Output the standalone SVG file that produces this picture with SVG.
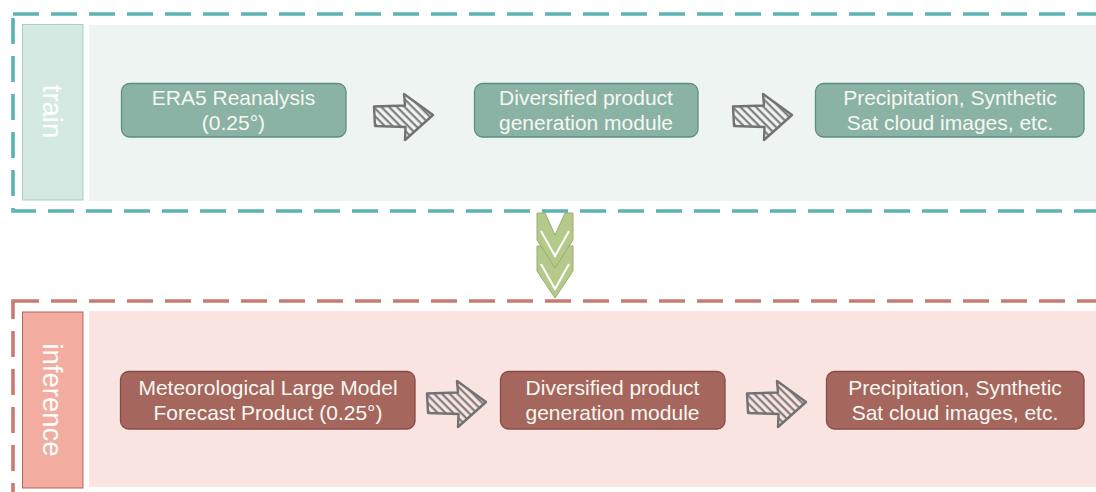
<svg xmlns="http://www.w3.org/2000/svg" width="1096" height="492" viewBox="0 0 1096 492">
<style>
.txt{font-family:"Liberation Sans",Arial,sans-serif;font-size:21px;fill:#f7f7f2;text-anchor:middle}
.lbl{font-family:"Liberation Sans",Arial,sans-serif;font-size:27.5px;fill:#ffffff;text-anchor:middle;dominant-baseline:central}
.tnode{fill:#8ab3a5;stroke:#5c8c84;stroke-width:1.3}
.inode{fill:#a5675d;stroke:#8a4a44;stroke-width:1.3}
.arr{fill:url(#hatch);stroke:#727272;stroke-width:2.4;stroke-linejoin:round}
.chev{fill:#b5c98a;stroke:#98ad70;stroke-width:1}
.chevline{fill:none;stroke:#ffffff;stroke-width:2}
</style>
<defs>
<pattern id="hatch" patternUnits="userSpaceOnUse" width="5.5" height="5.5" patternTransform="rotate(-45)">
<line x1="1.5" y1="0" x2="1.5" y2="5.5" stroke="#727272" stroke-width="2"/>
</pattern>
<path id="harrow" d="M0,12.5 L31,11.5 L30,0 L59,21 L31,46 L31.5,33 L1,32 Z"/>
</defs>

<g id="train">
<rect x="89" y="25" width="1020" height="176" fill="#eef4f2"/>
<rect x="22.5" y="24.5" width="60.5" height="175.5" fill="#d4e9e2" stroke="#a8cfc4" stroke-width="1"/>
<text class="lbl" transform="translate(52.5,111.5) rotate(90)">train</text>
<rect x="13" y="14" width="1110" height="197" fill="none" stroke="#5bb3b3" stroke-width="3.6" stroke-dasharray="26 12"/>
</g>

<g id="inference">
<rect x="89" y="311" width="1020" height="176" fill="#f9e4e2"/>
<rect x="22.5" y="312" width="60.5" height="176" fill="#f2ada0" stroke="#b5645a" stroke-width="1"/>
<text class="lbl" transform="translate(52.5,400) rotate(90)">inference</text>
<rect x="13" y="301" width="1110" height="210" fill="none" stroke="#c97b70" stroke-width="3.6" stroke-dasharray="26 12"/>
</g>

<g id="n-era5">
<rect class="tnode" x="121.5" y="83.5" width="224.5" height="53.5" rx="8"/>
<text class="txt" x="233.5" y="105">ERA5 Reanalysis</text>
<text class="txt" x="233.5" y="130">(0.25°)</text>
</g>
<g id="n-train-gen">
<rect class="tnode" x="474.5" y="83.5" width="223.5" height="53.5" rx="8"/>
<text class="txt" x="586" y="105">Diversified product</text>
<text class="txt" x="586" y="130">generation module</text>
</g>
<g id="n-train-out">
<rect class="tnode" x="815.5" y="83.5" width="268.5" height="53.5" rx="8"/>
<text class="txt" x="950" y="105">Precipitation, Synthetic</text>
<text class="txt" x="950" y="130">Sat cloud images, etc.</text>
</g>

<g id="n-mlm">
<rect class="inode" x="120.5" y="371.5" width="294.5" height="57.5" rx="8"/>
<text class="txt" x="268" y="395">Meteorological Large Model</text>
<text class="txt" x="268" y="420">Forecast Product (0.25°)</text>
</g>
<g id="n-inf-gen">
<rect class="inode" x="500.5" y="371.5" width="224.5" height="57.5" rx="8"/>
<text class="txt" x="612.5" y="395">Diversified product</text>
<text class="txt" x="612.5" y="420">generation module</text>
</g>
<g id="n-inf-out">
<rect class="inode" x="826.5" y="371.5" width="257.5" height="57.5" rx="8"/>
<text class="txt" x="955" y="395">Precipitation, Synthetic</text>
<text class="txt" x="955" y="420">Sat cloud images, etc.</text>
</g>

<g id="connectors">
<use href="#harrow" class="arr" transform="translate(374,94)"/>
<use href="#harrow" class="arr" transform="translate(733,94)"/>
<use href="#harrow" class="arr" transform="translate(427,381)"/>
<use href="#harrow" class="arr" transform="translate(747,381)"/>
<g id="down-chevrons">
<polygon class="chev" points="537,246 545,246 555,268 565,246 573,246 573,271 555,298 537,271"/>
<polyline class="chevline" points="541,264 555,289 569,264"/>
<polygon class="chev" points="537,213 545,213 555,235 565,213 573,213 573,240 555,268 537,240"/>
<polyline class="chevline" points="541,231 555,256 569,231"/>
</g>
</g>
</svg>
